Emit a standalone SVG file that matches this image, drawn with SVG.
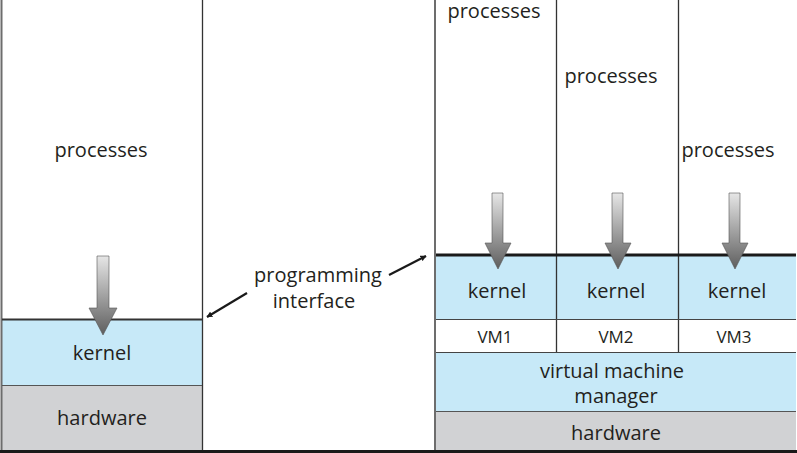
<svg xmlns="http://www.w3.org/2000/svg" width="797" height="453" viewBox="0 0 797 453">
<defs>
<linearGradient id="ag" x1="0" y1="0" x2="0" y2="1">
<stop offset="0" stop-color="#e6e6e6"/>
<stop offset="1" stop-color="#5e5e5e"/>
</linearGradient>
<marker id="ah" viewBox="0 0 10 10" refX="9" refY="5" markerWidth="6" markerHeight="6" orient="auto-start-reverse" markerUnits="userSpaceOnUse">
<path d="M0,0 L10,5 L0,10 z" fill="#1a1a1a"/>
</marker>
</defs>
<style>
text{font-family:"Open Sans","Noto Sans","Liberation Sans",sans-serif;fill:#231f20;text-anchor:middle}
.t{font-size:20px}
.s{font-size:17px}
.kern{fill:#c7e9f8}
.hw{fill:#d1d2d4}
.thin{stroke:#333;stroke-width:1.3;fill:none}
.border{stroke:#6d6d6d;stroke-width:2;fill:none}
.arr{fill:url(#ag);stroke:#555;stroke-width:0.6}
</style>
<rect width="797" height="453" fill="#fff"/>

<g id="left-stack">
<rect class="kern" x="2" y="319" width="200" height="66"/>
<rect class="hw" x="2" y="385" width="200" height="65"/>
<line class="border" x1="1.5" y1="0" x2="1.5" y2="451"/>
<line class="thin" x1="202.5" y1="0" x2="202.5" y2="451"/>
<line x1="2" y1="319.5" x2="202" y2="319.5" stroke="#333" stroke-width="2.2"/>
<line x1="2" y1="385.5" x2="202" y2="385.5" stroke="#555" stroke-width="1.2"/>
<text class="t" x="101" y="157">processes</text>
<text class="t" x="102" y="360">kernel</text>
<text class="t" x="102" y="425">hardware</text>
<path class="arr" d="M97,256 H109 V308 H117 L103,335 L89,308 H97 Z"/>
</g>

<g id="right-stack">
<rect class="kern" x="436" y="256" width="360" height="63"/>
<rect class="kern" x="436" y="353" width="360" height="58"/>
<rect class="hw" x="436" y="411" width="360" height="39"/>
<line class="border" x1="435" y1="0" x2="435" y2="451"/>
<line class="thin" x1="556.5" y1="0" x2="556.5" y2="353"/>
<line class="thin" x1="678.5" y1="0" x2="678.5" y2="353"/>
<line x1="436" y1="255" x2="796" y2="255" stroke="#1a1a1a" stroke-width="3"/>
<line x1="436" y1="319.5" x2="796" y2="319.5" stroke="#444" stroke-width="1.2"/>
<line x1="436" y1="352.5" x2="796" y2="352.5" stroke="#444" stroke-width="1.2"/>
<line x1="436" y1="411.5" x2="796" y2="411.5" stroke="#555" stroke-width="1.2"/>
<text class="t" x="494" y="18">processes</text>
<text class="t" x="611" y="83">processes</text>
<text class="t" x="728" y="157">processes</text>
<text class="t" x="497" y="298">kernel</text>
<text class="t" x="616" y="298">kernel</text>
<text class="t" x="737" y="298">kernel</text>
<text class="s" x="495" y="343">VM1</text>
<text class="s" x="616" y="343">VM2</text>
<text class="s" x="734" y="343">VM3</text>
<text class="t" x="612" y="378">virtual machine</text>
<text class="t" x="616" y="403">manager</text>
<text class="t" x="616" y="440">hardware</text>
<path class="arr" d="M492,193 H503 V243 H511 L498,269 L485,243 H492 Z"/>
<path class="arr" d="M612,193 H623 V243 H631 L618,269 L605,243 H612 Z"/>
<path class="arr" d="M729,193 H740 V243 H748 L735,269 L722,243 H729 Z"/>
</g>

<g id="bottom">
<line x1="0" y1="451.5" x2="797" y2="451.5" stroke="#1a1a1a" stroke-width="3"/>
</g>

<g id="label">
<text class="t" x="318" y="282">programming</text>
<text class="t" x="314" y="308">interface</text>
</g>

<g id="connectors">
<line x1="247" y1="293" x2="207" y2="317" stroke="#1a1a1a" stroke-width="2.2" marker-end="url(#ah)"/>
<line x1="389" y1="275" x2="426" y2="256" stroke="#1a1a1a" stroke-width="2.2" marker-end="url(#ah)"/>
</g>
</svg>
